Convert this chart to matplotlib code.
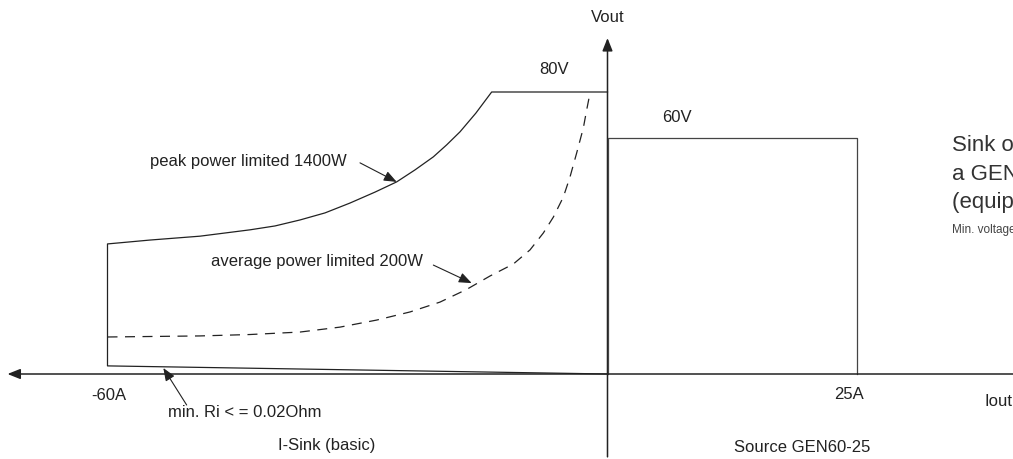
import matplotlib
matplotlib.use('Agg')
import matplotlib.pyplot as plt

plt.rcParams['font.family'] = ['Liberation Sans', 'DejaVu Sans']

# sink side (I-Sink basic), current in A, voltage in V
sink_bottom_i = [0, -60]
sink_bottom_v = [0, 2.3]
peak_i = [-60, -54.9, -48.9, -42.9, -39.9, -36.9, -33.9, -30.9, -27.9, -25.3, -23.1,
          -20.9, -19.3, -17.7, -15.8, -13.9, 0]
peak_v = [36.9, 38.0, 39.1, 40.9, 42.0, 43.7, 45.7, 48.5, 51.6, 54.5, 57.9,
          61.6, 65.0, 68.7, 74.0, 80.0, 80.0]
avg_i = [-60, -48.9, -42.9, -36.9, -32.1, -27.7, -23.7, -20.1, -16.9, -14.1, -11.3,
         -9.3, -7.7, -6.5, -5.3, -4.5, -3.7, -2.9, -2.5, -2.1]
avg_v = [10.5, 10.8, 11.2, 11.9, 13.3, 15.3, 17.6, 20.4, 24.0, 27.8, 31.2,
         35.2, 40.0, 44.5, 50.2, 55.9, 62.7, 69.8, 74.9, 79.7]

# source side (GEN60-25)
src_i = [0, 0, 25, 25]
src_v = [0, 60, 60, 0]

ink = '#222222'
fs = 12
fig = plt.figure(figsize=(10.13, 4.59), dpi=100)

# two schematic scales, both axes meet at the origin
W, H = 1013, 459
ox, oy = 607.5, 374
sx_l, sy_l = 500 / 60, 282 / 80
sx_r, sy_r = 249.5 / 25, 236 / 60

ax_l = fig.add_axes([0, 0, ox / W, 1])
ax_l.set_xlim(-ox / sx_l, 0)
ax_l.set_ylim(-(H - oy) / sy_l, oy / sy_l)
ax_r = fig.add_axes([ox / W, 0, 1 - ox / W, 1])
ax_r.set_xlim(0, (W - ox) / sx_r)
ax_r.set_ylim(-(H - oy) / sy_r, oy / sy_r)
for ax in (ax_l, ax_r):
    ax.axis('off')
    ax.patch.set_alpha(0)

# envelope lines
ax_l.plot(sink_bottom_i + peak_i, sink_bottom_v + peak_v, color=ink, lw=0.9, clip_on=False)
ax_l.plot(avg_i, avg_v, color=ink, lw=0.9, dashes=(8, 6), clip_on=False)
ax_r.plot(src_i, src_v, color='#444444', lw=0.9, clip_on=False)

# axes with arrows
arr = dict(arrowstyle='-|>,head_length=0.55,head_width=0.22', color=ink, lw=1.1,
           mutation_scale=14, shrinkA=0, shrinkB=0)
ax_l.annotate('', xy=(-72, 0), xytext=(0, 0), arrowprops=arr, annotation_clip=False)
ax_r.plot([0, 41], [0, 0], color=ink, lw=1.1, clip_on=False)
ax_l.annotate('', xy=(0, 95.3), xytext=(0, -23.5), arrowprops=arr, annotation_clip=False)

# pointer arrows
parr = dict(arrowstyle='-|>,head_length=0.55,head_width=0.22', color=ink, lw=0.8,
            mutation_scale=14, shrinkA=0, shrinkB=0)
ax_l.annotate('', xy=(-25.3, 54.5), xytext=(-29.7, 59.9), arrowprops=parr)
ax_l.text(-31.3, 60.4, 'peak power limited 1400W', fontsize=fs, color=ink, ha='right', va='center')
ax_l.annotate('', xy=(-16.3, 25.8), xytext=(-20.9, 30.9), arrowprops=parr)
ax_l.text(-22.1, 31.8, 'average power limited 200W', fontsize=fs, color=ink, ha='right', va='center')
ax_l.annotate('', xy=(-53.3, 1.7), xytext=(-50.5, -8.8), arrowprops=parr, annotation_clip=False)
ax_l.text(-52.7, -10.8, 'min. Ri < = 0.02Ohm', fontsize=fs, color=ink, ha='left', va='center')

# labels
ax_l.text(-59.8, -6.0, '-60A', fontsize=fs, color=ink, ha='center', va='center')
ax_l.text(-33.7, -20.4, 'I-Sink (basic)', fontsize=fs, color=ink, ha='center', va='center')
ax_l.text(-6.4, 86.5, '80V', fontsize=fs, color=ink, ha='center', va='center')
ax_l.text(0, 101, 'Vout', fontsize=fs, color=ink, ha='center', va='center')
ax_r.text(24.2, -5.3, '25A', fontsize=fs, color=ink, ha='center', va='center')
ax_r.text(37.8, -6.9, 'Iout', fontsize=fs, color=ink, ha='left', va='center')
ax_r.text(19.5, -18.6, 'Source GEN60-25', fontsize=fs, color=ink, ha='center', va='center')
ax_r.text(7.0, 65.1, '60V', fontsize=fs, color=ink, ha='center', va='center')

# side note (cut off at the figure edge in the original)
ax_r.text(34.5, 58.2, 'Sink operation of', fontsize=16, color='#333333', ha='left', va='center')
ax_r.text(34.5, 50.6, 'a GEN60-25', fontsize=16, color='#333333', ha='left', va='center')
ax_r.text(34.5, 43.5, '(equipped with I-Sink)', fontsize=16, color='#333333', ha='left', va='center')
ax_r.text(34.5, 36.6, 'Min. voltage', fontsize=8.5, color='#444444', ha='left', va='center',
          family=['Liberation Sans Narrow', 'Liberation Sans', 'DejaVu Sans'])

fig.savefig('out.png', dpi=100)
